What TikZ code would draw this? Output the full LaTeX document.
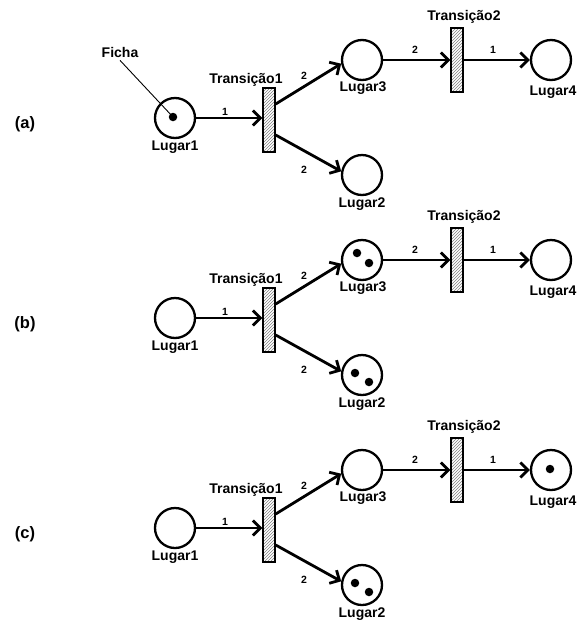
\documentclass[tikz,border=0pt]{standalone}
\usepackage{fontspec}
\setmainfont{Liberation Sans}
\usetikzlibrary{arrows.meta,patterns}
\tikzset{
 place/.style={circle,draw,line width=2.3pt,minimum size=40pt,inner sep=0pt,fill=white},
 trans/.style={rectangle,draw,line width=1.4pt,minimum width=12pt,minimum height=64pt,inner sep=0pt,pattern=north east lines,pattern color=gray},
 lbl/.style={font=\bfseries\fontsize{14}{16}\selectfont,inner sep=0pt},
 num/.style={font=\bfseries\fontsize{10.5}{12}\selectfont,inner sep=0pt},
 plbl/.style={font=\bfseries\fontsize{16.5}{18}\selectfont,inner sep=0pt},
 arc/.style={line width=2.8pt,-{Straight Barb[length=7.5pt,width=15pt]}},
 tok/.style={circle,fill,minimum size=8.5pt,inner sep=0pt},
}
\newcommand\petrinet[3]{%
 \begin{scope}[shift={(0,#2)}]
  \node[plbl] (#1lab) at (25,124) {#3};
  \node[place] (#1L1) at (175,118) {};
  \node[trans] (#1T1) at (269,120) {};
  \node[place] (#1L3) at (362,60) {};
  \node[place] (#1L2) at (362,175) {};
  \node[trans] (#1T2) at (457,60) {};
  \node[place] (#1L4) at (551,60) {};
  \node[lbl] (#1L1t) at (175,147) {Lugar1};
  \node[lbl] (#1L3t) at (363,88) {Lugar3};
  \node[lbl] (#1L2t) at (362,204) {Lugar2};
  \node[lbl] (#1L4t) at (553,92) {Lugar4};
  \node[lbl] (#1T1t) at (246,80) {Transição1};
  \node[lbl] (#1T2t) at (464,17) {Transição2};
  \draw[arc] (#1L1.east) -- (#1L1.east -| #1T1.west);
  \draw[arc] ([yshift=16pt]#1T1.east) -- (#1L3.190);
  \draw[arc] ([yshift=-15pt]#1T1.east) -- (#1L2.170);
  \draw[arc] (#1L3.east) -- (#1L3.east -| #1T2.west);
  \draw[arc] (#1T2.east |- #1L4.west) -- (#1L4.west);
  \node[num] (#1n1) at (225,112) {1};
  \node[num] (#1n2) at (304,76) {2};
  \node[num] (#1n3) at (304,170) {2};
  \node[num] (#1n4) at (415,50) {2};
  \node[num] (#1n5) at (493,50) {1};
 \end{scope}}
\begin{document}
\begin{tikzpicture}[x=1pt,y=-1pt]
\useasboundingbox (0,0) rectangle (583,622);
\petrinet{a}{0}{(a)}
\petrinet{b}{200}{(b)}
\petrinet{c}{410}{(c)}
% tokens (a)
\node[tok] (atk) at (173,117) {};
\node[lbl] (fich) at (120,52) {Ficha};
\draw[line width=0.9pt] ([yshift=-3pt]fich.south) -- (atk.center);
% tokens (b)
\begin{scope}[shift={(0,200)}]
\node[tok] (btk1) at (357,53) {};
\node[tok] (btk2) at (369,63) {};
\node[tok] (btk3) at (355,173) {};
\node[tok] (btk4) at (369,182) {};
\end{scope}
% tokens (c)
\begin{scope}[shift={(0,410)}]
\node[tok] (ctk1) at (355,173) {};
\node[tok] (ctk2) at (369,182) {};
\node[tok] (ctk3) at (550,59) {};
\end{scope}
\end{tikzpicture}
\end{document}
